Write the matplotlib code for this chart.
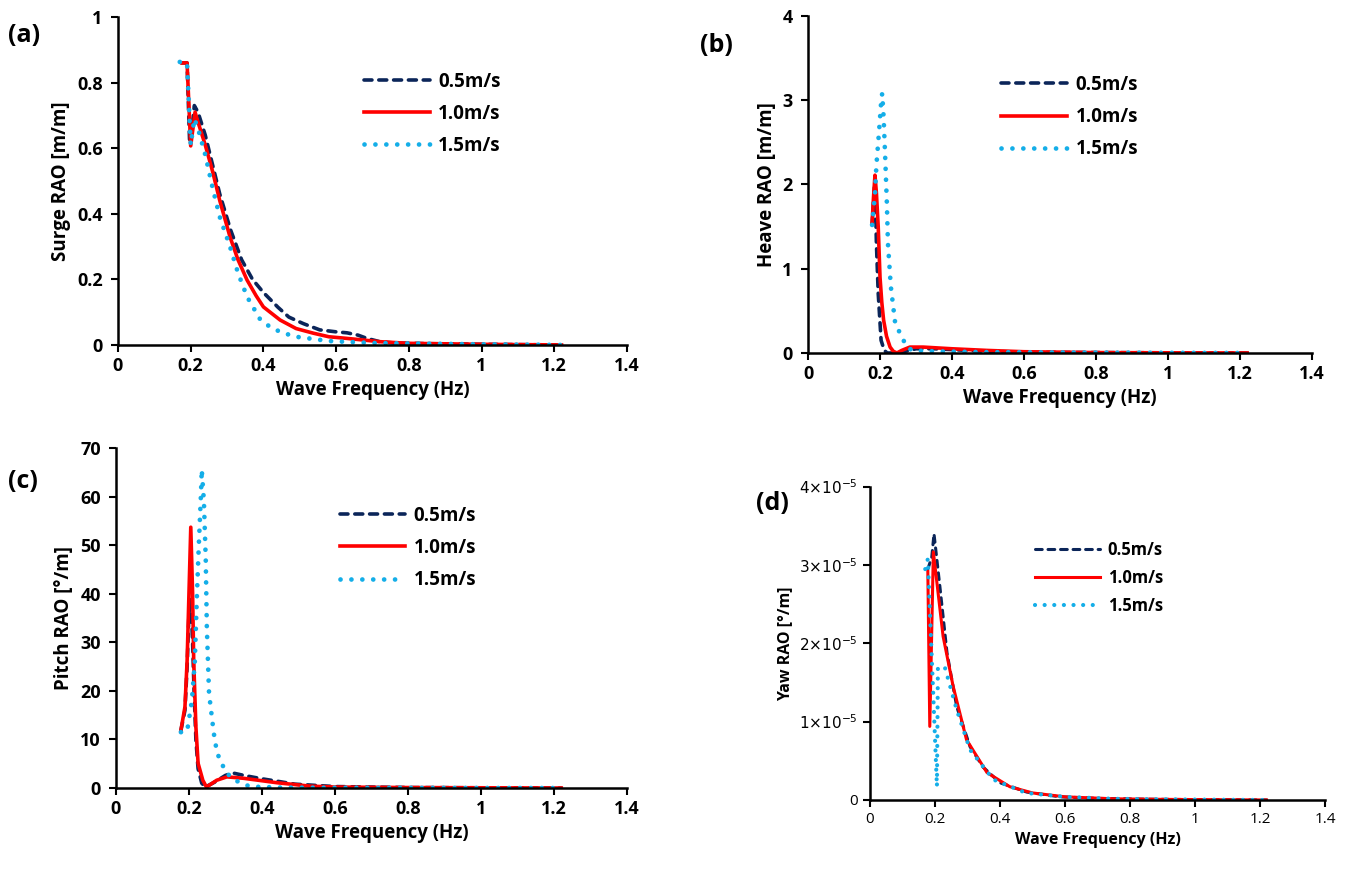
import numpy as np
import matplotlib.pyplot as plt

# data
# (a) surge RAO [m/m]
surge_f_05 = [0.175, 0.185, 0.19, 0.197, 0.2, 0.21, 0.22, 0.24, 0.26, 0.28, 0.31, 0.34, 0.37, 0.4, 0.44, 0.47, 0.51, 0.555, 0.6, 0.63, 0.66, 0.685, 0.72, 0.76, 0.85, 1.0, 1.22]
surge_y_05 = [0.86, 0.86, 0.86, 0.62, 0.62, 0.73, 0.71, 0.64, 0.55, 0.46, 0.35, 0.26, 0.2, 0.16, 0.115, 0.085, 0.065, 0.046, 0.04, 0.037, 0.03, 0.02, 0.01, 0.006, 0.004, 0.002, 0.0]
surge_f_10 = [0.176, 0.183, 0.19, 0.2, 0.212, 0.22, 0.24, 0.26, 0.28, 0.308, 0.33, 0.355, 0.38, 0.4, 0.446, 0.49, 0.537, 0.58, 0.63, 0.72, 0.8, 1.0, 1.22]
surge_y_10 = [0.86, 0.86, 0.86, 0.607, 0.71, 0.68, 0.61, 0.53, 0.44, 0.33, 0.26, 0.198, 0.15, 0.116, 0.076, 0.05, 0.036, 0.025, 0.02, 0.01, 0.005, 0.002, 0.0]
surge_f_15 = [0.17, 0.18, 0.19, 0.2, 0.21, 0.22, 0.24, 0.26, 0.28, 0.308, 0.33, 0.355, 0.39, 0.418, 0.45, 0.49, 0.58, 0.7, 0.85, 1.0, 1.22]
surge_y_15 = [0.863, 0.86, 0.86, 0.61, 0.69, 0.66, 0.58, 0.48, 0.39, 0.3, 0.22, 0.147, 0.08, 0.055, 0.038, 0.025, 0.012, 0.006, 0.004, 0.002, 0.0]

# (b) heave RAO [m/m]
heave_f_05 = [0.178, 0.186, 0.19, 0.195, 0.203, 0.212, 0.22, 0.25, 0.28, 0.3, 0.35, 0.4, 0.5, 0.6, 0.8, 1.0, 1.22]
heave_y_05 = [1.52, 2.08, 1.3, 0.71, 0.15, 0.03, 0.0, 0.0, 0.03, 0.05, 0.05, 0.04, 0.02, 0.01, 0.005, 0.002, 0.0]
heave_f_10 = [0.178, 0.182, 0.186, 0.19, 0.195, 0.2, 0.205, 0.21, 0.218, 0.228, 0.237, 0.247, 0.26, 0.283, 0.32, 0.36, 0.4, 0.5, 0.6, 0.8, 1.0, 1.22]
heave_y_10 = [1.54, 1.85, 2.11, 1.9, 1.5, 0.9, 0.6, 0.39, 0.2, 0.07, 0.02, 0.0, 0.03, 0.07, 0.07, 0.06, 0.05, 0.03, 0.015, 0.005, 0.002, 0.0]
heave_f_15 = [0.178, 0.186, 0.19, 0.197, 0.203, 0.206, 0.21, 0.214, 0.219, 0.222, 0.23, 0.242, 0.258, 0.275, 0.29, 0.35, 0.5, 0.8, 1.0, 1.22]
heave_y_15 = [1.52, 1.88, 2.23, 2.61, 2.97, 3.08, 2.8, 2.37, 1.78, 1.3, 0.79, 0.36, 0.21, 0.07, 0.03, 0.02, 0.01, 0.005, 0.002, 0.0]

# (c) pitch RAO [deg/m]
pitch_f_05 = [0.178, 0.189, 0.195, 0.2, 0.205, 0.21, 0.214, 0.219, 0.225, 0.235, 0.245, 0.27, 0.3, 0.32, 0.35, 0.4, 0.45, 0.49, 0.6, 0.8, 1.0, 1.22]
pitch_y_05 = [11.9, 16.0, 25.0, 36.0, 39.0, 30.0, 20.0, 10.0, 4.0, 1.0, 0.2, 1.2, 2.6, 3.1, 2.6, 1.9, 1.3, 0.8, 0.3, 0.1, 0.05, 0.0]
pitch_f_10 = [0.178, 0.189, 0.195, 0.2, 0.205, 0.21, 0.213, 0.219, 0.225, 0.238, 0.248, 0.276, 0.304, 0.35, 0.44, 0.53, 0.6, 0.8, 1.0, 1.22]
pitch_y_10 = [11.9, 16.7, 26.3, 40.0, 53.7, 40.0, 26.3, 12.6, 5.1, 1.6, 0.2, 1.6, 2.3, 2.0, 1.1, 0.4, 0.2, 0.1, 0.05, 0.0]
pitch_f_15 = [0.178, 0.195, 0.208, 0.216, 0.222, 0.227, 0.233, 0.235, 0.241, 0.246, 0.249, 0.255, 0.268, 0.277, 0.29, 0.3, 0.326, 0.367, 0.45, 0.6, 0.8, 1.0, 1.22]
pitch_y_15 = [11.5, 11.7, 18.0, 26.0, 40.0, 50.0, 60.7, 65.6, 59.0, 47.0, 33.0, 19.5, 11.3, 7.2, 5.1, 3.3, 1.6, 0.3, 0.1, 0.05, 0.03, 0.01, 0.0]

# (d) yaw RAO [deg/m], in units of 1e-5
yaw_f_05 = [0.178, 0.19, 0.197, 0.215, 0.237, 0.267, 0.308, 0.348, 0.4, 0.483, 0.585, 0.7, 0.85, 1.0, 1.22]
yaw_y_05 = [2.95, 3.1, 3.40, 2.73, 1.88, 1.19, 0.68, 0.42, 0.22, 0.1, 0.04, 0.02, 0.01, 0.005, 0.0]
yaw_f_10 = [0.178, 0.184, 0.195, 0.225, 0.256, 0.297, 0.36, 0.43, 0.5, 0.6, 0.75, 0.9, 1.05, 1.22]
yaw_y_10 = [2.92, 0.94, 3.17, 2.09, 1.45, 0.77, 0.35, 0.17, 0.09, 0.04, 0.015, 0.008, 0.004, 0.0]
yaw_f_15 = [0.17, 0.178, 0.206, 0.209, 0.23, 0.267, 0.308, 0.38, 0.48, 0.6, 0.75, 0.9, 1.05, 1.22]
yaw_y_15 = [2.95, 3.08, 0.17, 1.69, 1.7, 1.15, 0.64, 0.26, 0.09, 0.04, 0.015, 0.008, 0.004, 0.0]

speeds = ['0.5m/s', '1.0m/s', '1.5m/s']
xtick_labels = ['0', '0.2', '0.4', '0.6', '0.8', '1', '1.2', '1.4']
navy = '#0b2559'
red = '#ff0000'
blue = '#14aee8'

plt.rcParams['font.family'] = ['Open Sans', 'DejaVu Sans']

fig = plt.figure(figsize=(13.53, 8.72), dpi=100)


def make_axes(rect, xlab, ylab, ylim, yticks, ylabels, fs=13.5, tfs=13, tw='bold', pad=6):
    ax = fig.add_axes(rect)
    for s in ['top', 'right']:
        ax.spines[s].set_visible(False)
    for s in ['left', 'bottom']:
        ax.spines[s].set_linewidth(1.8)
    ax.set_xlim(0, 1.4)
    ax.set_ylim(ylim)
    ax.tick_params(direction='out', length=5, width=1.5)
    ax.tick_params(axis='y', pad=pad)
    ax.set_xticks(np.arange(0, 1.41, 0.2))
    ax.set_xticklabels(xtick_labels, fontsize=tfs, fontweight=tw)
    ax.set_yticks(yticks)
    ax.set_yticklabels(ylabels, fontsize=tfs, fontweight=tw)
    ax.set_xlabel(xlab, fontsize=fs, fontweight='bold')
    ax.set_ylabel(ylab, fontsize=fs, fontweight='bold')
    return ax


def draw(ax, series, anchor, fs=13.5, lw=2.6, hl=3.5, ls=0.65):
    styles = [dict(color=navy, ls=(0, (2.2, 1.9)), lw=lw, dash_capstyle='round'),
              dict(color=red, ls='-', lw=lw),
              dict(color=blue, ls=(0, (0.01, 2.3)), lw=lw + 0.8, dash_capstyle='round')]
    for (f, y), st, lab in zip(series, styles, speeds):
        ax.plot(f, y, label=lab, **st)
    ax.legend(loc='upper left', bbox_to_anchor=anchor, frameon=False,
              handlelength=hl, handletextpad=0.45, labelspacing=ls,
              prop={'size': fs, 'weight': 'bold'})


# (a)
ax1 = make_axes([0.0872, 0.6044, 0.3762, 0.3761], 'Wave Frequency (Hz)', 'Surge RAO [m/m]',
                (0, 1), [0, 0.2, 0.4, 0.6, 0.8, 1], ['0', '0.2', '0.4', '0.6', '0.8', '1'])
draw(ax1, [(surge_f_05, surge_y_05), (surge_f_10, surge_y_10), (surge_f_15, surge_y_15)], (0.45, 0.885))

# (b)
ax2 = make_axes([0.5972, 0.5952, 0.3725, 0.3865], 'Wave Frequency (Hz)', 'Heave RAO [m/m]',
                (0, 4), [0, 1, 2, 3, 4], ['0', '1', '2', '3', '4'])
draw(ax2, [(heave_f_05, heave_y_05), (heave_f_10, heave_y_10), (heave_f_15, heave_y_15)], (0.35, 0.875))

# (c)
ax3 = make_axes([0.0857, 0.0963, 0.3777, 0.3899], 'Wave Frequency (Hz)', 'Pitch RAO [°/m]',
                (0, 70), [0, 10, 20, 30, 40, 50, 60, 70], ['0', '10', '20', '30', '40', '50', '60', '70'])
draw(ax3, [(pitch_f_05, pitch_y_05), (pitch_f_10, pitch_y_10), (pitch_f_15, pitch_y_15)], (0.405, 0.88))

# (d)
ax4 = make_axes([0.643, 0.0826, 0.3363, 0.359], 'Wave Frequency (Hz)', 'Yaw RAO [°/m]',
                (0, 4), [0, 1, 2, 3, 4],
                ['0', r'$1{\times}10^{-5}$', r'$2{\times}10^{-5}$', r'$3{\times}10^{-5}$', r'$4{\times}10^{-5}$'],
                fs=11.5, tfs=11, tw='normal', pad=4)
draw(ax4, [(yaw_f_05, yaw_y_05), (yaw_f_10, yaw_y_10), (yaw_f_15, yaw_y_15)], (0.33, 0.875),
     fs=12, lw=2.2, hl=3.9, ls=0.6)

# panel letters
for x, y, t in [(0.006, 0.952, '(a)'), (0.517, 0.94, '(b)'), (0.006, 0.44, '(c)'), (0.559, 0.415, '(d)')]:
    fig.text(x, y, t, fontsize=18, fontweight='bold')

fig.savefig('out.png', dpi=100)
